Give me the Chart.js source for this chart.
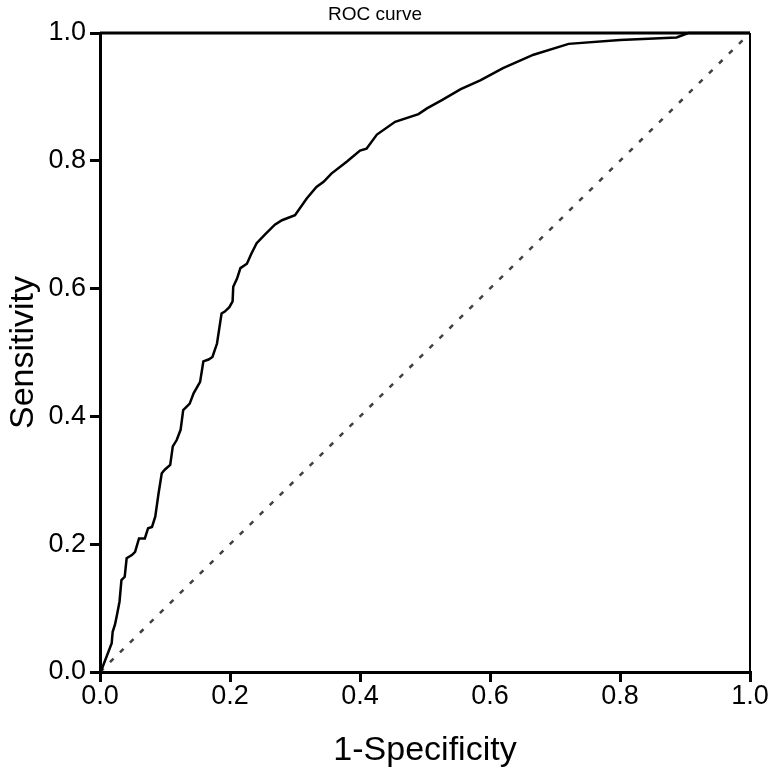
<!DOCTYPE html>
<html>
<head>
<meta charset="utf-8">
<style>
  html, body { margin: 0; padding: 0; background: #ffffff; }
  #c { display: block; }
</style>
<script src="https://cdn.jsdelivr.net/npm/chart.js@4.4.1/dist/chart.umd.min.js"></script>
</head>
<body>
<canvas id="c" width="779" height="774"></canvas>
<script>
// ---- data ----
const rocX = [0, 0.003, 0.018, 0.0195, 0.023, 0.026, 0.030, 0.033, 0.038, 0.041, 0.049, 0.054, 0.060, 0.069, 0.074, 0.080, 0.085, 0.090, 0.095, 0.100, 0.108, 0.112, 0.118, 0.124, 0.128, 0.133, 0.138, 0.144, 0.154, 0.159, 0.167, 0.173, 0.180, 0.187, 0.192, 0.199, 0.204, 0.205, 0.211, 0.216, 0.226, 0.233, 0.241, 0.254, 0.269, 0.280, 0.300, 0.318, 0.333, 0.344, 0.356, 0.380, 0.400, 0.410, 0.426, 0.454, 0.490, 0.503, 0.526, 0.555, 0.585, 0.620, 0.667, 0.721, 0.80, 0.887, 0.905, 1.0];
const rocY = [0, 0.005, 0.045, 0.063, 0.074, 0.089, 0.110, 0.144, 0.149, 0.178, 0.183, 0.188, 0.209, 0.209, 0.225, 0.227, 0.243, 0.279, 0.311, 0.317, 0.324, 0.353, 0.363, 0.379, 0.410, 0.415, 0.420, 0.436, 0.454, 0.486, 0.489, 0.493, 0.514, 0.561, 0.564, 0.571, 0.580, 0.603, 0.616, 0.632, 0.639, 0.655, 0.671, 0.685, 0.700, 0.707, 0.715, 0.741, 0.759, 0.767, 0.780, 0.799, 0.816, 0.819, 0.841, 0.861, 0.873, 0.882, 0.895, 0.912, 0.926, 0.945, 0.966, 0.983, 0.989, 0.993, 1.0, 1.0];
const refX = [0, 1];
const refY = [0, 1];
const xTickLabels = ['0.0', '0.2', '0.4', '0.6', '0.8', '1.0'];
const yTickLabels = ['0.0', '0.2', '0.4', '0.6', '0.8', '1.0'];
const titleText = 'ROC curve';
const xTitle = '1-Specificity';
const yTitle = 'Sensitivity';

const FONT = '"Liberation Sans", Arial, Helvetica, sans-serif';

const rocData = rocX.map((x, i) => ({ x: x, y: rocY[i] }));
const refData = refX.map((x, i) => ({ x: x, y: refY[i] }));

const framePlugin = {
  id: 'frame',
  afterDatasetsDraw(chart) {
    const { ctx, chartArea: a } = chart;
    ctx.save();
    ctx.strokeStyle = '#000';
    ctx.lineWidth = 3;
    ctx.beginPath();
    ctx.moveTo(a.left, a.top);
    ctx.lineTo(a.right, a.top);
    ctx.stroke();
    ctx.lineWidth = 2;
    ctx.beginPath();
    ctx.moveTo(a.right, a.top);
    ctx.lineTo(a.right, a.bottom);
    ctx.stroke();
    ctx.restore();
  }
};

new Chart(document.getElementById('c'), {
  type: 'scatter',
  data: {
    datasets: [
      {
        label: 'ROC',
        data: rocData,
        showLine: true,
        borderColor: '#000000',
        borderWidth: 2.5,
        pointRadius: 0,
        tension: 0,
        fill: false,
        clip: false
      },
      {
        label: 'Reference',
        data: refData,
        showLine: true,
        borderColor: '#404040',
        borderWidth: 2.5,
        borderDash: [5, 9],
        pointRadius: 0,
        tension: 0,
        fill: false
      }
    ]
  },
  options: {
    responsive: false,
    animation: false,
    layout: { padding: { left: 0, right: 29, top: 0, bottom: 0 } },
    plugins: {
      legend: { display: false },
      tooltip: { enabled: false },
      title: {
        display: true,
        text: titleText,
        color: '#000',
        font: { family: FONT, size: 19, weight: 'normal', lineHeight: 1.2 },
        padding: { top: 3, bottom: 7.2 }
      }
    },
    scales: {
      x: {
        type: 'linear',
        min: 0,
        max: 1,
        afterFit(scale) { scale.height = 102; },
        afterBuildTicks(scale) {
          scale.ticks = xTickLabels.map(t => ({ value: parseFloat(t) }));
        },
        ticks: {
          autoSkip: false,
          maxRotation: 0,
          color: '#000',
          padding: 1,
          font: { family: FONT, size: 27, lineHeight: 1 },
          callback: (v, i) => xTickLabels[i]
        },
        grid: { drawOnChartArea: false, drawTicks: true, tickLength: 10, lineWidth: 3, color: '#000' },
        border: { display: true, width: 3, color: '#000' },
        title: {
          display: true,
          text: xTitle,
          color: '#000',
          font: { family: FONT, size: 34, lineHeight: 1.2 },
          padding: { top: 0, bottom: 2.5 }
        }
      },
      y: {
        type: 'linear',
        min: 0,
        max: 1,
        afterFit(scale) { scale.width = 100; },
        afterBuildTicks(scale) {
          scale.ticks = yTickLabels.map(t => ({ value: parseFloat(t) }));
        },
        ticks: {
          autoSkip: false,
          color: '#000',
          padding: 4,
          font: { family: FONT, size: 27, lineHeight: 1.2 },
          callback: (v, i) => yTickLabels[i]
        },
        grid: { drawOnChartArea: false, drawTicks: true, tickLength: 10, lineWidth: 3, color: '#000' },
        border: { display: true, width: 3, color: '#000' },
        title: {
          display: true,
          text: yTitle,
          color: '#000',
          font: { family: FONT, size: 34, lineHeight: 1.2 },
          padding: { top: 3.5, bottom: 0 }
        }
      }
    }
  },
  plugins: [framePlugin]
});
</script>
</body>
</html>
